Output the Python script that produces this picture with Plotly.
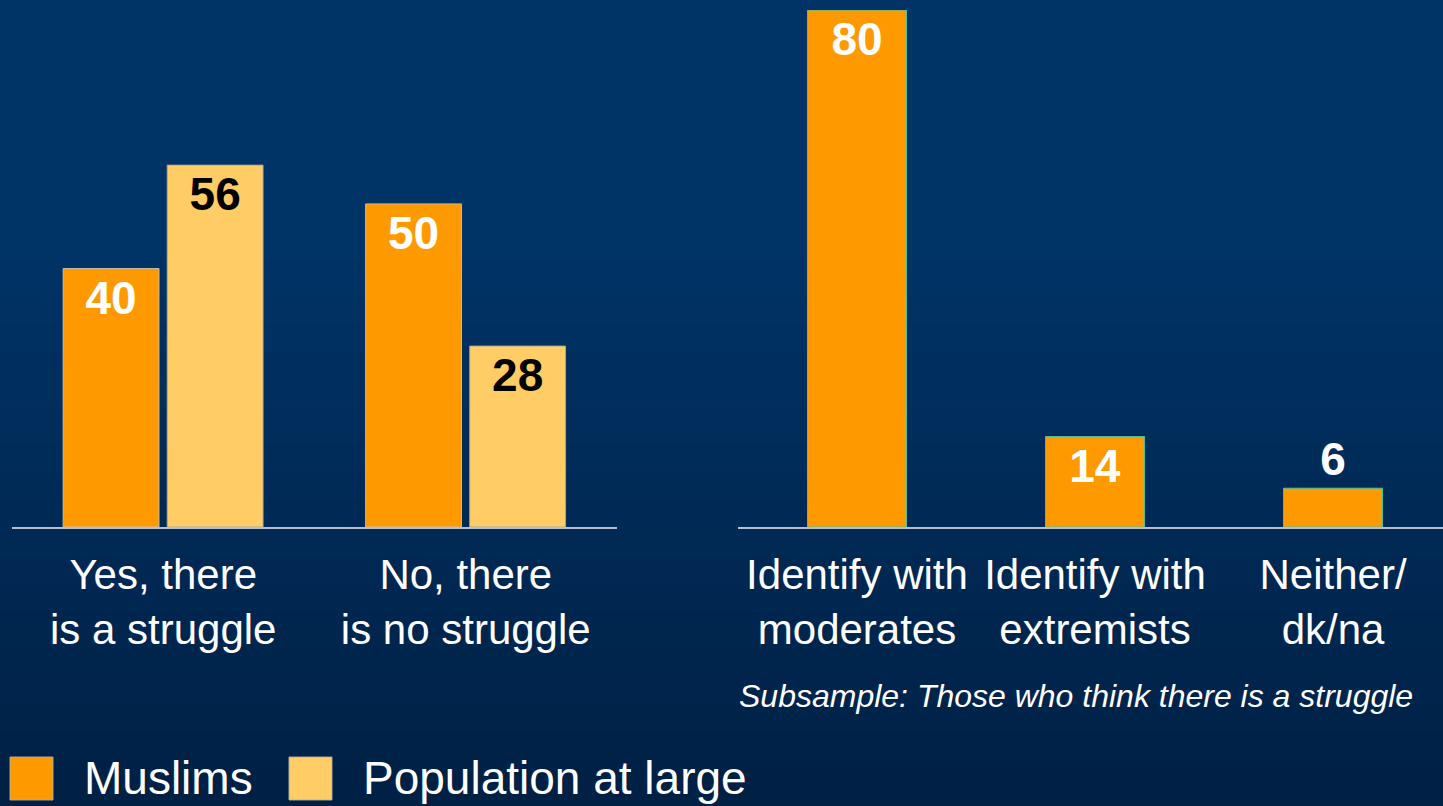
import plotly.graph_objects as go

# ---------------- data ----------------
left_categories = ["Yes, there<br>is a struggle", "No, there<br>is no struggle"]
muslims = [40, 50]
population = [56, 28]

right_categories = ["Identify with<br>moderates", "Identify with<br>extremists", "Neither/<br>dk/na"]
identify = [80, 14, 6]

series_names = ["Muslims", "Population at large"]
subsample_note = "Subsample: Those who think there is a struggle"

# ---------------- style ----------------
W, H = 1443, 806
C_MUS = "#FF9900"
C_POP = "#FFCC66"
FONT = "Liberation Sans, Arial, sans-serif"
AXIS_LINE = "#b4bfd0"

fig = go.Figure()

# left chart: grouped bars (explicit offsets)
fig.add_trace(go.Bar(
    x=left_categories, y=muslims, name=series_names[0],
    xaxis="x", yaxis="y",
    width=0.317, offset=-0.331,
    marker=dict(color=C_MUS, line=dict(color="rgba(200,195,175,0.9)", width=1)),
    text=[str(v) for v in muslims], textposition="inside", insidetextanchor="end",
    textfont=dict(family=FONT, size=46, color="white", weight="bold"),
    insidetextfont=dict(family=FONT, size=46, color="white", weight="bold"),
    cliponaxis=False, showlegend=False,
))
fig.add_trace(go.Bar(
    x=left_categories, y=population, name=series_names[1],
    xaxis="x", yaxis="y",
    width=0.317, offset=0.013,
    marker=dict(color=C_POP, line=dict(color="rgba(170,165,150,0.9)", width=1)),
    text=[str(v) for v in population], textposition="inside", insidetextanchor="end",
    textfont=dict(family=FONT, size=46, color="black", weight="bold"),
    insidetextfont=dict(family=FONT, size=46, color="black", weight="bold"),
    cliponaxis=False, showlegend=False,
))

# right chart
right_pos = ["outside" if v < 10 else "inside" for v in identify]
fig.add_trace(go.Bar(
    x=right_categories, y=identify, name=series_names[0],
    xaxis="x2", yaxis="y2",
    width=0.416, offset=-0.208,
    marker=dict(color=C_MUS, line=dict(color="#4dbf9a", width=1)),
    text=[str(v) for v in identify], textposition=right_pos, insidetextanchor="end",
    textfont=dict(family=FONT, size=46, color="white", weight="bold"),
    insidetextfont=dict(family=FONT, size=46, color="white", weight="bold"),
    outsidetextfont=dict(family=FONT, size=46, color="white", weight="bold"),
    cliponaxis=False, showlegend=False,
))

# ---------------- background gradient ----------------
shapes = []
top_rgb = (0, 51, 102)
bot_rgb = (0, 32, 68)
g_start = 250
n_bands = 60
shapes.append(dict(type="rect", xref="paper", yref="paper", x0=0, x1=1,
                   y0=1 - g_start / H, y1=1, fillcolor="rgb(%d,%d,%d)" % top_rgb,
                   line=dict(width=0), layer="below"))
band_h = (H - g_start) / n_bands
for i in range(n_bands):
    t = (i + 0.5) / n_bands
    c = tuple(round(top_rgb[k] + (bot_rgb[k] - top_rgb[k]) * t) for k in range(3))
    py0 = g_start + i * band_h
    py1 = py0 + band_h + 1
    shapes.append(dict(type="rect", xref="paper", yref="paper", x0=0, x1=1,
                       y0=max(0, 1 - py1 / H), y1=1 - py0 / H,
                       fillcolor="rgb(%d,%d,%d)" % c, line=dict(width=0), layer="below"))

# ---------------- custom legend ----------------
legend_items = [(series_names[0], C_MUS, 10), (series_names[1], C_POP, 289)]
annotations = []
for name, col, px in legend_items:
    shapes.append(dict(type="rect", xref="paper", yref="paper",
                       x0=px / W, x1=(px + 43) / W, y0=1 - 800 / H, y1=1 - 757 / H,
                       fillcolor=col, line=dict(color="rgba(180,175,160,0.9)", width=1)))
    annotations.append(dict(text=name, xref="paper", yref="paper",
                            x=(px + 72) / W, y=1 - 778 / H, xanchor="left", yanchor="middle",
                            showarrow=False, font=dict(family=FONT, size=46, color="white")))

annotations.append(dict(text="<i>" + subsample_note + "</i>", xref="paper", yref="paper",
                        x=1415 / W, y=1 - 696 / H, xanchor="right", yanchor="middle",
                        showarrow=False, font=dict(family=FONT, size=32, color="white")))

y_dom = [(H - 527) / H, (H - 10) / H]

axis_common = dict(showgrid=False, zeroline=False, showline=True, linecolor=AXIS_LINE,
                   linewidth=2, ticks="", ticklabelstandoff=10,
                   tickfont=dict(family=FONT, size=42, color="white"),
                   type="category", fixedrange=True)

fig.update_layout(
    width=W, height=H,
    margin=dict(l=0, r=0, t=0, b=0),
    paper_bgcolor="rgb(0,32,68)",
    plot_bgcolor="rgba(0,0,0,0)",
    barmode="overlay",
    showlegend=False,
    font=dict(family=FONT, color="white"),
    xaxis=dict(domain=[12 / W, 617 / W], range=[-0.5, 1.5], anchor="y", **axis_common),
    xaxis2=dict(domain=[738 / W, 1], range=[-0.5, 2.462], anchor="y2", **axis_common),
    yaxis=dict(domain=y_dom, range=[0, 80], visible=False, fixedrange=True),
    yaxis2=dict(domain=y_dom, range=[0, 80], visible=False, fixedrange=True, anchor="x2"),
    shapes=shapes,
    annotations=annotations,
)

fig.write_html("out.html", config={"displayModeBar": False},
               post_script="document.body.style.margin='0';document.body.style.overflow='hidden';")
